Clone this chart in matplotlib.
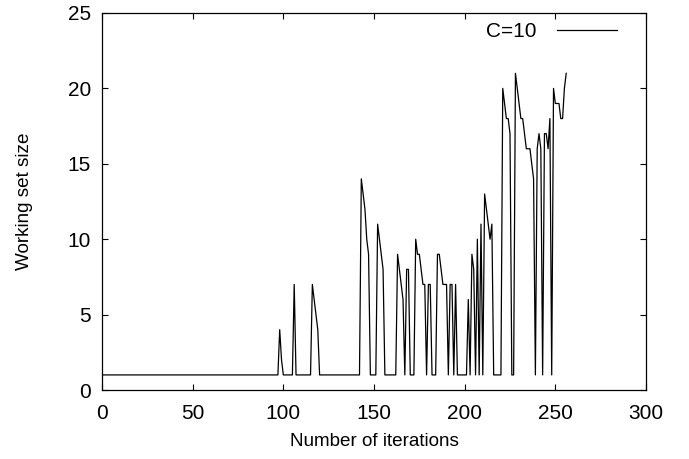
import matplotlib
matplotlib.use("Agg")
import matplotlib.pyplot as plt

plt.rcParams['font.family'] = ['Liberation Sans', 'DejaVu Sans']

series_label = "C=10"
x_label = "Number of iterations"
y_label = "Working set size"
x_ticks = [0, 50, 100, 150, 200, 250, 300]
y_ticks = [0, 5, 10, 15, 20, 25]

working_set = [
    1, 1, 1, 1, 1, 1, 1, 1, 1, 1,        # 0-9
    1, 1, 1, 1, 1, 1, 1, 1, 1, 1,        # 10-19
    1, 1, 1, 1, 1, 1, 1, 1, 1, 1,        # 20-29
    1, 1, 1, 1, 1, 1, 1, 1, 1, 1,        # 30-39
    1, 1, 1, 1, 1, 1, 1, 1, 1, 1,        # 40-49
    1, 1, 1, 1, 1, 1, 1, 1, 1, 1,        # 50-59
    1, 1, 1, 1, 1, 1, 1, 1, 1, 1,        # 60-69
    1, 1, 1, 1, 1, 1, 1, 1, 1, 1,        # 70-79
    1, 1, 1, 1, 1, 1, 1, 1, 1, 1,        # 80-89
    1, 1, 1, 1, 1, 1, 1, 1, 4, 2,        # 90-99
    1, 1, 1, 1, 1, 1, 7, 1, 1, 1,        # 100-109
    1, 1, 1, 1, 1, 1, 7, 6, 5, 4,        # 110-119
    1, 1, 1, 1, 1, 1, 1, 1, 1, 1,        # 120-129
    1, 1, 1, 1, 1, 1, 1, 1, 1, 1,        # 130-139
    1, 1, 1, 14, 13, 12, 10, 9, 1, 1,    # 140-149
    1, 1, 11, 10, 9, 8, 1, 1, 1, 1,      # 150-159
    1, 1, 1, 9, 8, 7, 6, 1, 8, 8,        # 160-169
    1, 1, 1, 10, 9, 9, 8, 7, 7, 1,       # 170-179
    7, 7, 1, 1, 1, 9, 9, 8, 7, 7,        # 180-189
    7, 1, 7, 7, 1, 7, 1, 1, 1, 1,        # 190-199
    1, 1, 6, 1, 9, 8, 1, 10, 1, 11,      # 200-209
    1, 13, 12, 11, 10, 11, 1, 1, 1, 1,   # 210-219
    1, 20, 19, 18, 18, 17, 1, 1, 21, 20, # 220-229
    19, 18, 18, 17, 16, 16, 16, 15, 14, 1,  # 230-239
    16, 17, 16, 1, 17, 17, 16, 18, 1, 20,   # 240-249
    19, 19, 19, 18, 18, 20, 21,             # 250-256
]
iterations = list(range(len(working_set)))

fig = plt.figure(figsize=(6.89, 4.59), dpi=100)
ax = fig.add_axes([102/689, 1 - 390/459, (646-102)/689, (390-13)/459])

ax.plot(iterations, working_set, color='black', lw=0.9, label=series_label)

ax.set_xlim(0, 300)
ax.set_ylim(0, 25)
ax.set_xticks(x_ticks)
ax.set_yticks(y_ticks)
ax.tick_params(direction='in', length=4.5, width=0.8, top=True, right=True,
               labelsize=15, colors='black')
ax.tick_params(axis='x', pad=10)
ax.tick_params(axis='y', pad=8)
for s in ax.spines.values():
    s.set_linewidth(0.9)

ax.set_xlabel(x_label, fontsize=13.6, labelpad=7.5)
ax.set_ylabel(y_label, fontsize=13.6, labelpad=25)

ax.legend(loc='upper right', frameon=False, markerfirst=False, fontsize=15,
          handlelength=2.9, handletextpad=1.0, borderaxespad=0.0,
          bbox_to_anchor=(0.9625, 0.998))

fig.savefig("out.png", dpi=100)
